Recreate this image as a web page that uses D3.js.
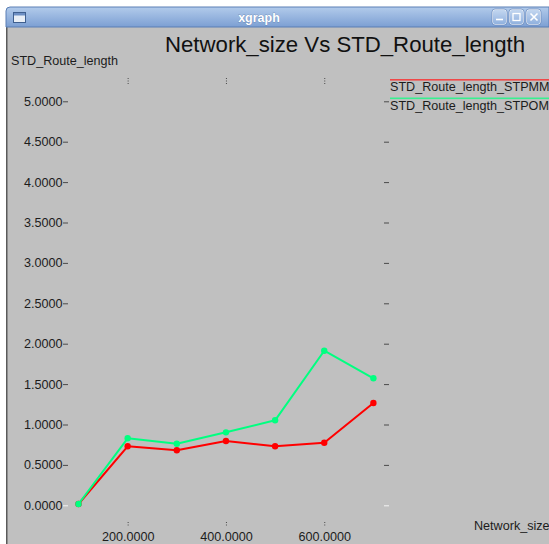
<!DOCTYPE html>
<html>
<head>
<meta charset="utf-8">
<script src="https://cdn.jsdelivr.net/npm/d3@7"></script>
<style>
  html, body { margin: 0; padding: 0; background: #ffffff; overflow: hidden; }
  svg { display: block; }
  text { font-family: "Liberation Sans", Arial, Helvetica, sans-serif; }
</style>
</head>
<body>
<svg id="chart" width="549" height="544"></svg>
<script>
// Network size on the x axis, standard deviation of route length on the y axis
const networkSize = [100, 200, 300, 400, 500, 600, 700];
const stdRouteLengthSTPMM = [0.016, 0.730, 0.681, 0.796, 0.730, 0.775, 1.266];
const stdRouteLengthSTPOM = [0.016, 0.829, 0.762, 0.903, 1.052, 1.913, 1.572];
const seriesNames = ["STD_Route_length_STPMM", "STD_Route_length_STPOM"];
const seriesColors = ["#ff0000", "#00ff80"];
const xTickValues = [200, 400, 600];
const yTickValues = [0, 0.5, 1, 1.5, 2, 2.5, 3, 3.5, 4, 4.5, 5];
const chartTitle = "Network_size Vs STD_Route_length";
const xAxisLabel = "Network_size";
const yAxisLabel = "STD_Route_length";
const windowTitle = "xgraph";

const svg = d3.select("#chart");
const W = 549, H = 544;

// ---- window frame ----
const defs = svg.append("defs");
const grad = defs.append("linearGradient").attr("id", "titlebar")
  .attr("x1", 0).attr("y1", 0).attr("x2", 0).attr("y2", 1);
grad.append("stop").attr("offset", "0%").attr("stop-color", "#b2cbeb");
grad.append("stop").attr("offset", "100%").attr("stop-color", "#7c9fd3");
const btnGrad = defs.append("linearGradient").attr("id", "btn")
  .attr("x1", 0).attr("y1", 0).attr("x2", 0).attr("y2", 1);
btnGrad.append("stop").attr("offset", "0%").attr("stop-color", "#c4d7f0");
btnGrad.append("stop").attr("offset", "100%").attr("stop-color", "#8fb0de");

// client area
svg.append("rect").attr("x", 6).attr("y", 27).attr("width", W - 6).attr("height", H - 27)
  .attr("fill", "#c0c0c0");
// left border
svg.append("rect").attr("x", 6).attr("y", 27).attr("width", 1.5).attr("height", H - 27)
  .attr("fill", "#5a5a5a");
// title bar
svg.append("path")
  .attr("d", `M6,${27} L6,11 Q6,7 10,7 L${W},7 L${W},27 Z`)
  .attr("fill", "url(#titlebar)")
  .attr("stroke", "#5b7fb5").attr("stroke-width", 1);
// window icon
svg.append("rect").attr("x", 13.5).attr("y", 12.5).attr("width", 12).attr("height", 10)
  .attr("fill", "#e8eef6").attr("stroke", "#3f5f8f").attr("stroke-width", 1);
svg.append("rect").attr("x", 14).attr("y", 13).attr("width", 11).attr("height", 2.5)
  .attr("fill", "#6d8fc4");
// window title
svg.append("text").attr("x", 259).attr("y", 21.5).attr("text-anchor", "middle")
  .attr("font-size", 12.5).attr("font-weight", "bold").attr("fill", "#ffffff")
  .attr("stroke", "#4d6c9c").attr("stroke-width", 0.4).attr("paint-order", "stroke")
  .text(windowTitle);
// title bar buttons
const btnX = [492.5, 509.5, 526.5];
btnX.forEach((bx) => {
  svg.append("rect").attr("x", bx).attr("y", 9.5).attr("width", 14).attr("height", 15)
    .attr("rx", 2.5).attr("fill", "url(#btn)").attr("stroke", "#eef3fa").attr("stroke-width", 1);
  svg.append("rect").attr("x", bx - 0.5).attr("y", 9).attr("width", 15).attr("height", 16)
    .attr("rx", 3).attr("fill", "none").attr("stroke", "#5b7db3").attr("stroke-width", 0.6);
});
svg.append("line").attr("x1", 496).attr("x2", 503).attr("y1", 19.5).attr("y2", 19.5)
  .attr("stroke", "#ffffff").attr("stroke-width", 1.6);
svg.append("rect").attr("x", 513).attr("y", 13.5).attr("width", 7).attr("height", 7)
  .attr("fill", "none").attr("stroke", "#ffffff").attr("stroke-width", 1.3);
svg.append("path").attr("d", "M530.5,13.5 L537.5,20.5 M537.5,13.5 L530.5,20.5")
  .attr("stroke", "#ffffff").attr("stroke-width", 1.6);

// ---- scales ----
const x = d3.scaleLinear().domain([100, 700]).range([78.5, 373.4]);
const y = d3.scaleLinear().domain([0, 5]).range([505.3, 101.3]);

const ink = "#1c1c1c";
const tickInk = "#4a4a4a";

// chart title and axis captions
svg.append("text").attr("x", 165).attr("y", 52).attr("font-size", 22.2).attr("fill", "#111")
  .text(chartTitle);
svg.append("text").attr("x", 11).attr("y", 65).attr("font-size", 12.6).attr("fill", ink)
  .text(yAxisLabel);
svg.append("text").attr("x", 474).attr("y", 530).attr("font-size", 12.6).attr("fill", ink)
  .text(xAxisLabel);

// ---- left axis: labels with short dash ticks ----
const leftAxis = svg.append("g").attr("transform", "translate(68,0)")
  .call(d3.axisLeft(y).tickValues(yTickValues).tickFormat(d3.format(".4f"))
    .tickSize(5).tickPadding(0.5));
leftAxis.select(".domain").remove();
leftAxis.selectAll(".tick line").attr("stroke", d => d === 0 ? "#f4f4f4" : tickInk);
leftAxis.selectAll(".tick text").attr("font-size", 12.6).attr("fill", ink)
  .attr("font-family", "Liberation Sans, Arial, sans-serif");

// ---- right axis: dash ticks only ----
const rightAxis = svg.append("g").attr("transform", "translate(384,0)")
  .call(d3.axisRight(y).tickValues(yTickValues).tickFormat("").tickSize(5));
rightAxis.select(".domain").remove();
rightAxis.selectAll(".tick line").attr("stroke", d => d === 0 ? "#f4f4f4" : tickInk);

// ---- top axis: small dotted ticks ----
const topAxis = svg.append("g").attr("transform", "translate(0,84)")
  .call(d3.axisTop(x).tickValues(xTickValues).tickFormat("").tickSize(6));
topAxis.select(".domain").remove();
topAxis.selectAll(".tick line").attr("stroke", tickInk).attr("stroke-dasharray", "1,1.5");

// ---- bottom axis: dotted ticks and numeric labels ----
const bottomAxis = svg.append("g").attr("transform", "translate(0,522)")
  .call(d3.axisBottom(x).tickValues(xTickValues).tickFormat(d3.format(".4f"))
    .tickSize(5).tickPadding(5));
bottomAxis.select(".domain").remove();
bottomAxis.selectAll(".tick line").attr("stroke", tickInk).attr("stroke-dasharray", "1,1.5");
bottomAxis.selectAll(".tick text").attr("font-size", 12.6).attr("fill", ink)
  .attr("font-family", "Liberation Sans, Arial, sans-serif");

// ---- data series ----
const series = [stdRouteLengthSTPMM, stdRouteLengthSTPOM];
const line = d3.line().x((d, i) => x(networkSize[i])).y(d => y(d));
series.forEach((vals, s) => {
  const g = svg.append("g");
  g.append("path").datum(vals).attr("d", line)
    .attr("fill", "none").attr("stroke", seriesColors[s]).attr("stroke-width", 2)
    .attr("stroke-linejoin", "round");
  g.selectAll("circle").data(vals).join("circle")
    .attr("cx", (d, i) => x(networkSize[i])).attr("cy", d => y(d)).attr("r", 3.2)
    .attr("fill", seriesColors[s]);
});

// ---- legend: coloured rule above each series name ----
const legendY = [79, 97.5];
const legendLineColors = ["#f04848", "#38f090"];
const legend = svg.append("g").attr("class", "legend");
seriesNames.forEach((name, s) => {
  legend.append("rect").attr("x", 390).attr("y", legendY[s]).attr("width", W - 390).attr("height", 1.6)
    .attr("fill", legendLineColors[s]);
  legend.append("text").attr("x", 390).attr("y", legendY[s] + 12).attr("font-size", 12.6)
    .attr("fill", ink).text(name);
});
</script>
</body>
</html>
